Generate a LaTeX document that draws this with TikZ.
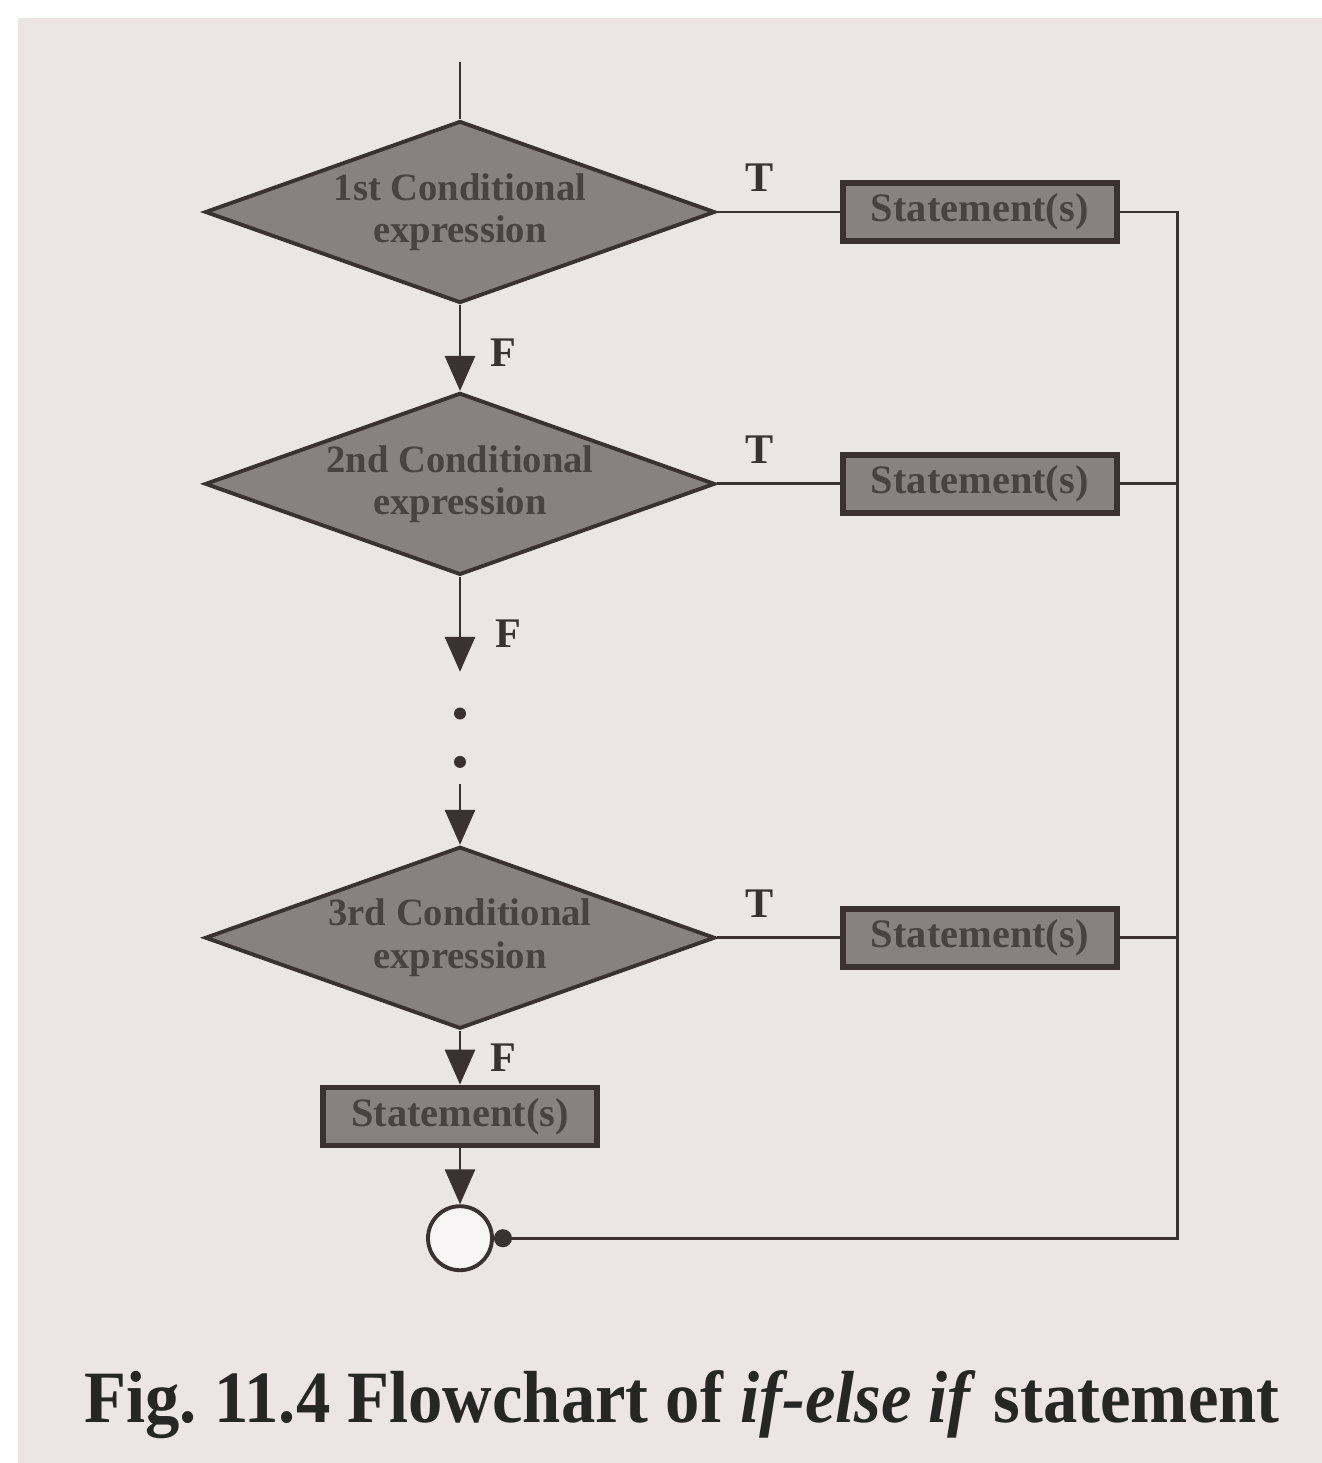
\documentclass[tikz,border=0pt]{standalone}
\usepackage{fontspec}
\setmainfont{Liberation Serif}
\usetikzlibrary{shapes.geometric, arrows.meta, positioning, calc}
\definecolor{paper}{HTML}{ECE5E5}
\definecolor{boxgray}{HTML}{898181}
\definecolor{inkline}{HTML}{3A3232}
\definecolor{inktext}{HTML}{4A4242}
\tikzset{
  cond/.style={diamond, aspect=2.83, draw=inkline, line width=1.1pt, fill=boxgray,
               minimum width=51mm, minimum height=18.2mm, inner sep=0pt,
               align=center, text=inktext, font=\fontsize{11}{12}\selectfont\bfseries},
  stmt/.style={rectangle, draw=inkline, line width=1.6pt, fill=boxgray,
               minimum width=27.4mm, minimum height=5.8mm, inner sep=0pt,
               text=inktext, font=\fontsize{11.5}{12}\selectfont\bfseries},
  endc/.style={circle, draw=inkline, line width=1.1pt, fill=white!60!paper,
               minimum size=6.4mm, inner sep=0pt},
  dotm/.style={circle, fill=inkline, minimum size=1.2mm, inner sep=0pt},
  ln/.style={draw=inkline, line width=0.85pt},
  fl/.style={ln, -{Triangle[width=3mm, length=3.5mm]}},
  lbl/.style={font=\fontsize{12}{12}\selectfont\bfseries, text=inkline, inner sep=1pt}
}

\begin{document}
\frenchspacing
\begin{tikzpicture}[node distance=9mm]
\useasboundingbox (0,0) rectangle (13.22,-14.63);
\fill[paper] (0.18,-0.18) rectangle (13.22,-14.63);

\node[cond] (c1) at (4.6,-2.12) {1st Conditional\\expression};
\node[cond, below=8.6mm of c1] (c2) {2nd Conditional\\expression};
\node[cond, below=26.8mm of c2] (c3) {3rd Conditional\\expression};
\node[stmt, right=12.3mm of c1] (s1) {Statement(s)};
\node[stmt, right=12.3mm of c2] (s2) {Statement(s)};
\node[stmt, right=12.3mm of c3] (s3) {Statement(s)};
\node[stmt, below=5.4mm of c3] (s4) {Statement(s)};
\node[endc, below=5.6mm of s4] (stop) {};

\coordinate[above=5.7mm of c1.north] (top);
\coordinate[below=9.5mm of c2.south] (brk);
\node[dotm, below=3.5mm of brk] (p1) {};
\node[dotm, below=3.5mm of p1] (p2) {};
\coordinate[below=1.5mm of p2] (rsm);
\coordinate (rail) at ($(s1.east)+(5.8mm,0)$);

\draw[ln] (top) -- (c1.north);
\draw[fl] (c1.south) -- node[lbl, right=2.5mm, pos=0.55]{F} (c2.north);
\draw[fl] (c2.south) -- node[lbl, right=3mm, pos=0.6]{F} (brk);
\draw[fl] (rsm) -- (c3.north);
\draw[fl] (c3.south) -- node[lbl, right=2.5mm, pos=0.5]{F} (s4.north);
\draw[fl] (s4.south) -- (stop.north);
\foreach \c/\s in {c1/s1, c2/s2, c3/s3}
  \draw[ln] (\c.east) -- node[lbl, above=1.5mm, pos=0.35]{T} (\s.west);

\draw[ln, -{Circle[length=1.8mm]}] (s1.east) -- (rail) -- (rail |- stop.east) -- (stop.east);
\draw[ln] (s2.east) -- (rail |- s2.east);
\draw[ln] (s3.east) -- (rail |- s3.east);

\node[font=\fontsize{21}{24}\selectfont\bfseries, text=black!85] (cap) at (6.82,-14.05)
  {\scalebox{0.93}[1]{Fig. 11.4 Flowchart of \textit{if-else if} statement}};
\end{tikzpicture}
\end{document}
